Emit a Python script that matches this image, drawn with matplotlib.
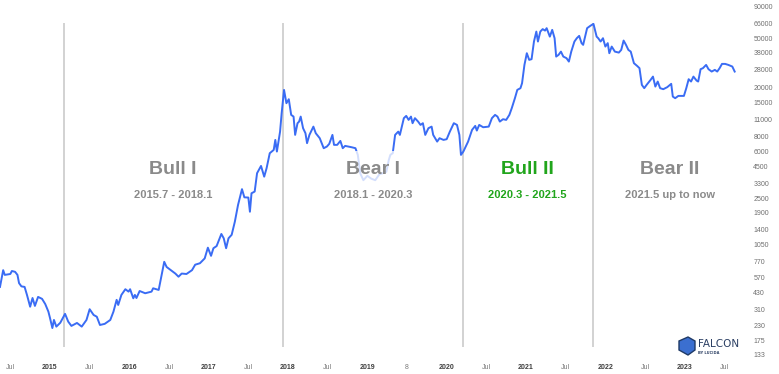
import matplotlib
matplotlib.use("Agg")
import matplotlib.pyplot as plt
from matplotlib.patches import Rectangle, Polygon
from matplotlib.ticker import FixedLocator, NullLocator
import matplotlib.transforms as mtransforms

# price of bitcoin (USD); x as decimal years
years = [
    2014.37, 2014.41, 2014.43, 2014.50, 2014.52, 2014.56, 2014.59, 2014.61, 2014.64, 2014.68,
    2014.71, 2014.75, 2014.78, 2014.81, 2014.85, 2014.90, 2014.94, 2014.98, 2015.00, 2015.03,
    2015.05, 2015.08, 2015.13, 2015.19, 2015.23, 2015.27, 2015.34, 2015.40, 2015.46, 2015.50,
    2015.55, 2015.59, 2015.63, 2015.69, 2015.76, 2015.80, 2015.84, 2015.86, 2015.90, 2015.95,
    2015.99, 2016.01, 2016.05, 2016.07, 2016.09, 2016.13, 2016.20, 2016.28, 2016.30, 2016.37,
    2016.41, 2016.44, 2016.47, 2016.51, 2016.58, 2016.62, 2016.66, 2016.72, 2016.79, 2016.83,
    2016.89, 2016.95, 2016.99, 2017.03, 2017.06, 2017.10, 2017.16, 2017.19, 2017.22, 2017.25,
    2017.29, 2017.33, 2017.37, 2017.42, 2017.45, 2017.50, 2017.52, 2017.54, 2017.58, 2017.61,
    2017.66, 2017.70, 2017.73, 2017.77, 2017.82, 2017.84, 2017.86, 2017.90, 2017.92, 2017.95,
    2017.98, 2018.01, 2018.04, 2018.07, 2018.09, 2018.12, 2018.14, 2018.16, 2018.19, 2018.22,
    2018.24, 2018.27, 2018.32, 2018.35, 2018.40, 2018.45, 2018.49, 2018.52, 2018.56, 2018.58,
    2018.62, 2018.66, 2018.69, 2018.72, 2018.76, 2018.80, 2018.85, 2018.88, 2018.91, 2018.95,
    2019.00, 2019.05, 2019.10, 2019.15, 2019.20, 2019.24, 2019.27, 2019.29, 2019.32, 2019.35,
    2019.39, 2019.41, 2019.46, 2019.49, 2019.52, 2019.55, 2019.57, 2019.60, 2019.64, 2019.67,
    2019.70, 2019.73, 2019.77, 2019.81, 2019.83, 2019.88, 2019.91, 2019.96, 2020.00, 2020.04,
    2020.09, 2020.13, 2020.16, 2020.18, 2020.21, 2020.25, 2020.27, 2020.32, 2020.36, 2020.38,
    2020.41, 2020.46, 2020.53, 2020.57, 2020.61, 2020.64, 2020.67, 2020.71, 2020.75, 2020.79,
    2020.82, 2020.86, 2020.89, 2020.93, 2020.95, 2020.98, 2021.01, 2021.04, 2021.07, 2021.10,
    2021.13, 2021.15, 2021.18, 2021.21, 2021.24, 2021.26, 2021.30, 2021.33, 2021.36, 2021.38,
    2021.41, 2021.44, 2021.47, 2021.51, 2021.54, 2021.57, 2021.61, 2021.64, 2021.67, 2021.70,
    2021.72, 2021.77, 2021.81, 2021.85, 2021.89, 2021.91, 2021.94, 2021.97, 2022.00, 2022.03,
    2022.05, 2022.08, 2022.12, 2022.17, 2022.20, 2022.23, 2022.26, 2022.29, 2022.32, 2022.36,
    2022.40, 2022.43, 2022.46, 2022.49, 2022.52, 2022.57, 2022.60, 2022.63, 2022.66, 2022.69,
    2022.73, 2022.78, 2022.83, 2022.85, 2022.88, 2022.92, 2022.99, 2023.02, 2023.05, 2023.08,
    2023.11, 2023.15, 2023.17, 2023.20, 2023.23, 2023.27, 2023.30, 2023.34, 2023.38, 2023.41,
    2023.44, 2023.47, 2023.51, 2023.55, 2023.60, 2023.63,
]
prices = [
    475, 650, 595, 605, 640, 630, 595, 510, 480, 475,
    409, 328, 386, 333, 394, 380, 345, 299, 266, 220,
    256, 226, 243, 287, 248, 229, 242, 226, 256, 313,
    281, 272, 233, 238, 256, 299, 373, 339, 409, 455,
    435, 455, 384, 409, 386, 440, 422, 435, 463, 449,
    610, 760, 690, 660, 610, 575, 610, 605, 650, 720,
    740, 810, 990, 850, 980, 1020, 1280, 1180, 980, 1180,
    1260, 1610, 2200, 2960, 2540, 2530, 1940, 2740, 2830, 3990,
    4570, 3740, 4380, 5800, 6170, 7440, 5980, 8690, 12260, 18970,
    14780, 15930, 11880, 11510, 8170, 10170, 10480, 11510, 9260, 8430,
    7000, 8170, 9540, 8430, 7680, 6370, 6570, 6910, 8170, 6780,
    6780, 7300, 6370, 6650, 6570, 6490, 6370, 5620, 3990, 3500,
    3800, 3600, 3500, 3900, 4000, 4100, 5100, 5620, 5800, 8170,
    8690, 8170, 11170, 11660, 10820, 11510, 10170, 11170, 10480, 9850,
    10170, 8170, 9260, 9540, 8170, 7210, 7680, 7440, 7540, 8690,
    10170, 9850, 8170, 5620, 5980, 6780, 7210, 8980, 9670, 8860,
    9850, 9430, 9540, 11170, 11880, 11510, 10480, 10960, 10820, 11880,
    13460, 16240, 18970, 19590, 21510, 30280, 37680, 33270, 33710, 46880,
    56490, 46880, 56490, 59150, 57540, 60210, 51400, 58320, 49900, 35380,
    36530, 38820, 35380, 34350, 32220, 38820, 46880, 49900, 52120, 45500,
    44060, 60210, 62870, 65260, 51400, 49900, 46880, 49900, 42670, 45500,
    37680, 42670, 38820, 38120, 40100, 47750, 44060, 40100, 38820, 31270,
    29720, 28490, 20830, 19590, 20830, 22870, 24330, 20180, 22170, 19590,
    19220, 19960, 21250, 16740, 16240, 16950, 16950, 19590, 23170, 22170,
    24330, 22570, 22170, 27940, 28490, 30280, 27940, 26730, 27590, 26730,
    28490, 30850, 30850, 30280, 29360, 26730,
]

phase_breaks = [2015.18, 2017.94, 2020.20, 2021.85]
phase_titles = ["Bull I", "Bear I", "Bull II", "Bear II"]
phase_ranges = ["2015.7 - 2018.1", "2018.1 - 2020.3", "2020.3 - 2021.5", "2021.5 up to now"]
phase_label_x = [2016.55, 2019.07, 2021.02, 2022.81]
phase_colors = ["#8a8a8a", "#8a8a8a", "#21a51c", "#8a8a8a"]

ytick_values = [133, 175, 230, 310, 430, 570, 770, 1050, 1400, 1900, 2500, 3300, 4500,
                6000, 8000, 11000, 15000, 20000, 28000, 38000, 50000, 66000, 90000]
xtick_pos = [2014.5 + 0.5 * i for i in range(19)]
xtick_labels = []
for p in xtick_pos:
    if p == 2019.5:
        xtick_labels.append("8")
    elif p % 1 == 0.5:
        xtick_labels.append("Jul")
    else:
        xtick_labels.append(str(int(p)))

W, H = 779, 374
fig = plt.figure(figsize=(W / 100, H / 100), dpi=100)
ax = fig.add_axes([0, 14 / H, 745 / W, 360 / H])

ax.set_yscale("log")
ax.set_ylim(121, 102000)
ax.set_xlim(2014.37, 2023.76)

ax.vlines(phase_breaks, 155, 66500, color="#cfcfcf", lw=1.3, zorder=1)
ax.plot(years, prices, color="#3a6cf4", lw=1.4, zorder=2, solid_joinstyle="round")

# labels with a half transparent white box behind them
trans = mtransforms.blended_transform_factory(ax.transData, ax.transAxes)
for xl, t, r, c in zip(phase_label_x, phase_titles, phase_ranges, phase_colors):
    ax.add_patch(Rectangle((xl - 0.64, 0.417), 1.28, 0.163, transform=trans,
                           facecolor="white", edgecolor="none", alpha=0.78, zorder=3))
    ax.text(xl, 0.528, t, transform=trans, ha="center", va="center", fontsize=14,
            fontweight="bold", color=c, family="Liberation Sans", zorder=4)
    ax.text(xl, 0.458, r, transform=trans, ha="center", va="center", fontsize=8,
            fontweight="bold", color=c, family="Liberation Sans", zorder=4)

for s in ax.spines.values():
    s.set_visible(False)

ax.yaxis.tick_right()
ax.yaxis.set_major_locator(FixedLocator(ytick_values))
ax.yaxis.set_minor_locator(NullLocator())
ax.set_yticklabels([str(v) for v in ytick_values])
ax.tick_params(axis="y", length=0, pad=6, labelsize=5, labelcolor="#6f6f6f")
for lab in ax.get_yticklabels():
    lab.set_family("Liberation Sans")

ax.set_xticks(xtick_pos)
ax.set_xticklabels(xtick_labels)
ax.tick_params(axis="x", length=0, pad=3, labelsize=5)
for lab in ax.get_xticklabels():
    lab.set_family("Liberation Sans")
    if lab.get_text() in ("Jul", "8"):
        lab.set_color("#7a7a7a")
    else:
        lab.set_color("#3f3f3f")
        lab.set_fontweight("bold")

# logo (pixel coords, y measured from the top of the image)
icon_px = [[679, 341], [688, 337], [695, 341], [695, 350], [688, 355], [679, 350]]
icon = Polygon([[px, H - py] for px, py in icon_px], closed=True, transform=None,
               facecolor="#3b6fd0", edgecolor="#1f3a66", lw=1)
fig.patches.append(icon)
fig.text(698 / W, 1 - 344 / H, "FALCON", fontsize=7.5, color="#2b3f63", va="center",
         ha="left", family="DejaVu Sans")
fig.text(698 / W, 1 - 352.5 / H, "BY LUCIDA", fontsize=2.6, color="#2b3f63", va="center",
         ha="left", fontweight="bold", family="DejaVu Sans")

fig.savefig("out.png", dpi=100)
